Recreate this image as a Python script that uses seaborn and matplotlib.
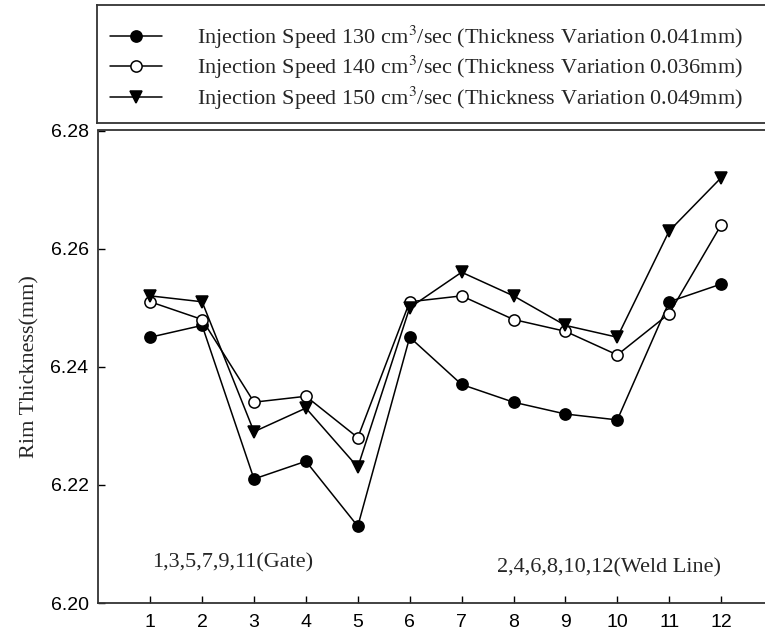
import matplotlib
matplotlib.use("Agg")
import matplotlib.pyplot as plt
import seaborn as sns
import pandas as pd

positions = [1, 2, 3, 4, 5, 6, 7, 8, 9, 10, 11, 12]
speed_130 = [6.245, 6.247, 6.221, 6.224, 6.213, 6.245, 6.237, 6.234, 6.232, 6.231, 6.251, 6.254]
speed_140 = [6.251, 6.248, 6.234, 6.235, 6.228, 6.251, 6.252, 6.248, 6.246, 6.242, 6.249, 6.264]
speed_150 = [6.252, 6.251, 6.229, 6.233, 6.223, 6.250, 6.256, 6.252, 6.247, 6.245, 6.263, 6.272]
labels = [
    r"Injection Speed 130 cm$^3$/sec (Thickness Variation 0.041mm)",
    r"Injection Speed 140 cm$^3$/sec (Thickness Variation 0.036mm)",
    r"Injection Speed 150 cm$^3$/sec (Thickness Variation 0.049mm)",
]
y_ticks = [6.20, 6.22, 6.24, 6.26, 6.28]
x_ticks = positions
ylabel = "Rim Thickness(mm)"
note_gate = "1,3,5,7,9,11(Gate)"
note_weld = "2,4,6,8,10,12(Weld Line)"

sns.set_style("ticks")
plt.rcParams["font.family"] = ["Liberation Sans", "DejaVu Sans"]
plt.rcParams["mathtext.fontset"] = "stix"
serif = ["Liberation Serif", "DejaVu Serif"]

W, H = 765, 634
fig = plt.figure(figsize=(W / 100, H / 100), dpi=100)
left_px, bottom_px, top_px = 98.3, 603, 130.5
px_per_unit = 51.9
ax = fig.add_axes([left_px / W, 1 - bottom_px / H, 13 * px_per_unit / W,
                   (bottom_px - top_px) / H])

styles = [
    dict(marker="o", markersize=9.5, markerfacecolor="black"),
    dict(marker="o", markersize=9.5, markerfacecolor="white"),
    dict(marker="v", markersize=10, markerfacecolor="black"),
]
series = [speed_130, speed_140, speed_150]
for vals, lab, st in zip(series, labels, styles):
    df = pd.DataFrame({"pos": positions, "val": vals})
    sns.lineplot(data=df, x="pos", y="val", ax=ax, color="black", linewidth=1.1,
                 markeredgecolor="black", markeredgewidth=1.1, label=lab, **st)

ax.set_xlim(0, 13)
ax.set_ylim(6.20, 6.28)
ax.set_xticks(x_ticks)
ax.set_xticklabels([str(v) for v in x_ticks])
ax.set_yticks(y_ticks)
ax.set_yticklabels([f"{v:.2f}" for v in y_ticks])
ax.tick_params(direction="in", length=5, width=1, labelsize=14, pad=8, colors="black")
ax.tick_params(axis="y", pad=7)
ax.set_xlabel("")
ax.set_ylabel(ylabel, fontsize=16, family=serif, labelpad=8)
for s in ax.spines.values():
    s.set_color("#333333")
    s.set_linewidth(1.3)

ax.text(1.04, 6.2068, note_gate, fontsize=16, family=serif, ha="left", va="center")
ax.text(12.0, 6.2059, note_weld, fontsize=16, family=serif, ha="right", va="center")

handles, labs = ax.get_legend_handles_labels()
ax.get_legend().remove()
for h in handles:
    h.set_markersize(h.get_markersize() * 0.85)

lax = fig.add_axes([97 / W, 1 - 123 / H, 1.0, 118 / H])
lax.set_xticks([])
lax.set_yticks([])
lax.set_facecolor("none")
for s in lax.spines.values():
    s.set_color("#333333")
    s.set_linewidth(1.3)
lax.legend(handles, labs, loc="center left", bbox_to_anchor=(0, 0.47),
           frameon=False, borderaxespad=0, borderpad=0.58, handlelength=2.35,
           handletextpad=1.55, labelspacing=0.15, prop={"family": serif, "size": 16})

fig.savefig("out.png", dpi=100)
